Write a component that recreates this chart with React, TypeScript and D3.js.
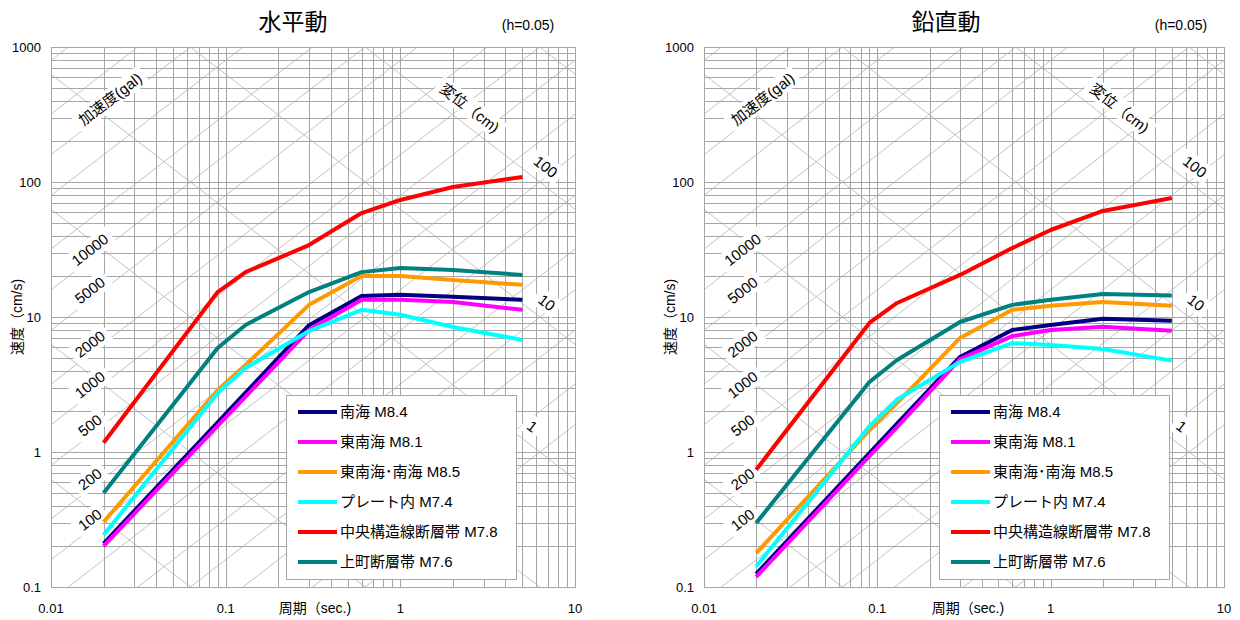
import React from "react";
import * as d3 from "d3";

// ---- data ----
const periods = [0.02, 0.09, 0.13, 0.3, 0.6, 1, 2, 5];
const seriesNames = [
  "南海 M8.4",
  "東南海 M8.1",
  "東南海･南海 M8.5",
  "プレート内 M7.4",
  "中央構造線断層帯 M7.8",
  "上町断層帯 M7.6",
];
const seriesColors = ["#000080", "#ff00ff", "#ff9900", "#00ffff", "#ff0000", "#008080"];

// 水平動 (horizontal)
const hNankai = [0.21, 1.66, 2.75, 8.7, 14.3, 14.6, 14.1, 13.4];
const hTonankai = [0.201, 1.56, 2.57, 8.0, 13.4, 13.4, 12.9, 11.3];
const hTonankaiNankai = [0.303, 2.88, 4.41, 12.3, 20.1, 20.1, 18.8, 17.3];
const hPlate = [0.243, 2.74, 4.19, 7.87, 11.3, 10.4, 8.43, 6.76];
const hMTL = [1.17, 15.3, 21.5, 34.1, 58.9, 73.6, 91.8, 109];
const hUemachi = [0.497, 5.89, 8.73, 15.3, 21.5, 23.1, 22.3, 20.5];

// 鉛直動 (vertical)
const vNankai = [0.125, 0.98, 1.62, 5.06, 8.0, 8.73, 9.7, 9.4];
const vTonankai = [0.119, 0.93, 1.53, 4.87, 7.22, 8.0, 8.47, 7.92];
const vTonankaiNankai = [0.178, 1.45, 2.3, 7.0, 11.3, 12.1, 12.9, 12.1];
const vPlate = [0.142, 1.55, 2.45, 4.65, 6.4, 6.2, 5.8, 4.75];
const vMTL = [0.74, 9.03, 12.7, 20.5, 32.4, 44.1, 61.0, 76];
const vUemachi = [0.298, 3.3, 4.8, 9.18, 12.3, 13.4, 14.8, 14.4];

const xTicks = [0.01, 0.1, 1, 10];
const yTicks = [0.1, 1, 10, 100, 1000];
const accelLines = [1, 2, 5, 10, 20, 50, 100, 200, 500, 1000, 2000, 5000, 10000, 20000, 50000, 100000, 200000, 500000];
const dispLines = [0.001, 0.01, 0.1, 1, 10, 100, 1000];
const accelLabels = [100, 200, 500, 1000, 2000, 5000, 10000];
const accelLabelPeriod = 0.0167;
const dispLabels = [1, 10, 100];
const dispLabelPeriods = [5.7, 6.9, 6.8];
const accelTitle = "加速度(gal)";
const accelTitleValue = 100000;
const accelTitlePeriod = 0.0218;
const dispTitle = "変位（cm)";
const dispTitleValue = 100;
const dispTitlePeriod = 2.5;

const FONT = "'Liberation Sans', Arial, 'Noto Sans CJK JP', sans-serif";
const TWO_PI = 2 * Math.PI;
const GRID = "#a6a6a6";
const DIAG = "#c2c2c2";

function textWidth(s: string, fs: number) {
  let w = 0;
  for (const ch of s) {
    const c = ch.codePointAt(0) || 0;
    if (c > 0x2e80) w += fs;
    else if (/[0-9]/.test(ch)) w += fs * 0.556;
    else if (/[()\.\/l]/.test(ch)) w += fs * 0.3;
    else if (ch === "m") w += fs * 0.83;
    else w += fs * 0.53;
  }
  return w;
}

type PanelCfg = {
  id: string;
  x0: number;
  x1: number;
  title: string;
  data: number[][];
};

const Y_TOP = 47;
const Y_BOT = 587;

function DiagLabel({ cx, cy, angle, text, fs }: { cx: number; cy: number; angle: number; text: string; fs: number }) {
  const w = textWidth(text, fs) + 10;
  const h = fs + 5;
  return (
    <g transform={`translate(${cx},${cy}) rotate(${angle})`}>
      <rect x={-w / 2} y={-h / 2} width={w} height={h} fill="#fff" />
      <text textAnchor="middle" dy="0.36em" fontSize={fs} fill="#000" fontFamily={FONT}>
        {text}
      </text>
    </g>
  );
}

function Panel({ cfg }: { cfg: PanelCfg }) {
  const x = d3.scaleLog().domain([0.01, 10]).range([cfg.x0, cfg.x1]);
  const y = d3.scaleLog().domain([0.1, 1000]).range([Y_BOT, Y_TOP]);
  const clipId = `clip-${cfg.id}`;
  const angle = (Math.atan2(y(1) - y(10), x(1) - x(0.1)) * 180) / Math.PI;

  const vGrid: number[] = [];
  [0.01, 0.1, 1].forEach((d) => {
    for (let k = 1; k <= 9; k++) vGrid.push(d * k);
  });
  vGrid.push(10);
  const hGrid: number[] = [];
  [0.1, 1, 10, 100].forEach((d) => {
    for (let k = 1; k <= 9; k++) hGrid.push(d * k);
  });
  hGrid.push(1000);

  const line = d3
    .line<[number, number]>()
    .x((d) => x(d[0]))
    .y((d) => y(d[1]));

  const accelV = (a: number, t: number) => (a * t) / TWO_PI;
  const dispV = (dd: number, t: number) => (TWO_PI * dd) / t;

  const lx = cfg.x0 + 235;
  const ly = 395;
  const lw = 230;
  const lh = 184;

  return (
    <g>
      <defs>
        <clipPath id={clipId}>
          <rect x={cfg.x0} y={Y_TOP} width={cfg.x1 - cfg.x0} height={Y_BOT - Y_TOP} />
        </clipPath>
      </defs>
      <rect x={cfg.x0} y={Y_TOP} width={cfg.x1 - cfg.x0} height={Y_BOT - Y_TOP} fill="#fff" />
      <g clipPath={`url(#${clipId})`}>
        {/* diagonals */}
        {accelLines.map((a) => (
          <path
            key={`a${a}`}
            d={line([
              [0.01, accelV(a, 0.01)],
              [10, accelV(a, 10)],
            ]) || ""}
            stroke={DIAG}
            strokeWidth={1}
            fill="none"
          />
        ))}
        {dispLines.map((dd) => (
          <path
            key={`d${dd}`}
            d={line([
              [0.01, dispV(dd, 0.01)],
              [10, dispV(dd, 10)],
            ]) || ""}
            stroke={DIAG}
            strokeWidth={1}
            fill="none"
          />
        ))}
        {vGrid.map((t, i) => (
          <line key={`v${i}`} x1={Math.round(x(t)) + 0.5} x2={Math.round(x(t)) + 0.5} y1={Y_TOP} y2={Y_BOT} stroke={GRID} strokeWidth={1} />
        ))}
        {hGrid.map((v, i) => (
          <line key={`h${i}`} x1={cfg.x0} x2={cfg.x1} y1={Math.round(y(v)) + 0.5} y2={Math.round(y(v)) + 0.5} stroke={GRID} strokeWidth={1} />
        ))}
        {/* diagonal labels */}
        {accelLabels.map((a) => (
          <DiagLabel
            key={`al${a}`}
            cx={x(accelLabelPeriod)}
            cy={y(accelV(a, accelLabelPeriod)) - 10}
            angle={-angle}
            text={String(a)}
            fs={15}
          />
        ))}
        <DiagLabel
          cx={x(accelTitlePeriod)}
          cy={y(accelV(accelTitleValue, accelTitlePeriod)) - 10}
          angle={-angle}
          text={accelTitle}
          fs={15}
        />
        {dispLabels.map((dd, i) => (
          <DiagLabel
            key={`dl${dd}`}
            cx={x(dispLabelPeriods[i])}
            cy={y(dispV(dd, dispLabelPeriods[i])) - 20}
            angle={angle}
            text={String(dd)}
            fs={15}
          />
        ))}
        <DiagLabel
          cx={x(dispTitlePeriod)}
          cy={y(dispV(dispTitleValue, dispTitlePeriod)) - 20}
          angle={angle}
          text={dispTitle}
          fs={15}
        />
        {/* curves */}
        {cfg.data.map((vals, si) => (
          <path
            key={`s${si}`}
            d={line(periods.map((p, i) => [p, vals[i]] as [number, number])) || ""}
            stroke={seriesColors[si]}
            strokeWidth={4}
            fill="none"
            strokeLinejoin="round"
          />
        ))}
      </g>
      <rect x={cfg.x0 + 0.5} y={Y_TOP + 0.5} width={cfg.x1 - cfg.x0} height={Y_BOT - Y_TOP} fill="none" stroke={GRID} strokeWidth={1} />

      {/* legend */}
      <rect x={lx + 0.5} y={ly + 0.5} width={lw} height={lh} fill="#fff" stroke={GRID} strokeWidth={1} />
      {seriesNames.map((n, i) => (
        <g key={`lg${i}`}>
          <line x1={lx + 12} x2={lx + 51} y1={ly + 17 + 30 * i} y2={ly + 17 + 30 * i} stroke={seriesColors[i]} strokeWidth={4} />
          <text x={lx + 54} y={ly + 17 + 30 * i} dy="0.36em" fontSize={15} fill="#000" fontFamily={FONT}>
            {n}
          </text>
        </g>
      ))}

      {/* tick labels */}
      {yTicks.map((v) => (
        <text key={`yt${v}`} x={cfg.x0 - 10} y={y(v)} dy="0.36em" textAnchor="end" fontSize={13} fill="#000" fontFamily={FONT}>
          {String(v)}
        </text>
      ))}
      {xTicks.map((t) => (
        <text key={`xt${t}`} x={x(t)} y={608} dy="0.36em" textAnchor="middle" fontSize={13} fill="#000" fontFamily={FONT}>
          {String(t)}
        </text>
      ))}

      {/* axis titles */}
      <text x={cfg.x0 + 264} y={608} dy="0.36em" textAnchor="middle" fontSize={14} fill="#000" fontFamily={FONT}>
        周期（sec.)
      </text>
      <text
        transform={`translate(${cfg.x0 - 34},${y(10)}) rotate(-90)`}
        dy="0.36em"
        textAnchor="middle"
        fontSize={14}
        fill="#000"
        fontFamily={FONT}
      >
        速度（cm/s)
      </text>
      <text x={cfg.x0 + 242} y={30} textAnchor="middle" fontSize={23} fill="#000" fontFamily={FONT}>
        {cfg.title}
      </text>
      <text x={cfg.x0 + 477} y={25} dy="0.36em" textAnchor="middle" fontSize={14} fill="#000" fontFamily={FONT}>
        (h=0.05)
      </text>
    </g>
  );
}

export default function App() {
  const panels: PanelCfg[] = [
    {
      id: "h",
      x0: 51,
      x1: 575,
      title: "水平動",
      data: [hNankai, hTonankai, hTonankaiNankai, hPlate, hMTL, hUemachi],
    },
    {
      id: "v",
      x0: 704,
      x1: 1224,
      title: "鉛直動",
      data: [vNankai, vTonankai, vTonankaiNankai, vPlate, vMTL, vUemachi],
    },
  ];
  return (
    <svg
      width={1240}
      height={620}
      viewBox="0 0 1240 620"
      style={{ position: "absolute", left: 0, top: 0, background: "#fff" }}
    >
      <rect x={0} y={0} width={1240} height={620} fill="#fff" />
      {panels.map((p) => (
        <Panel key={p.id} cfg={p} />
      ))}
    </svg>
  );
}
